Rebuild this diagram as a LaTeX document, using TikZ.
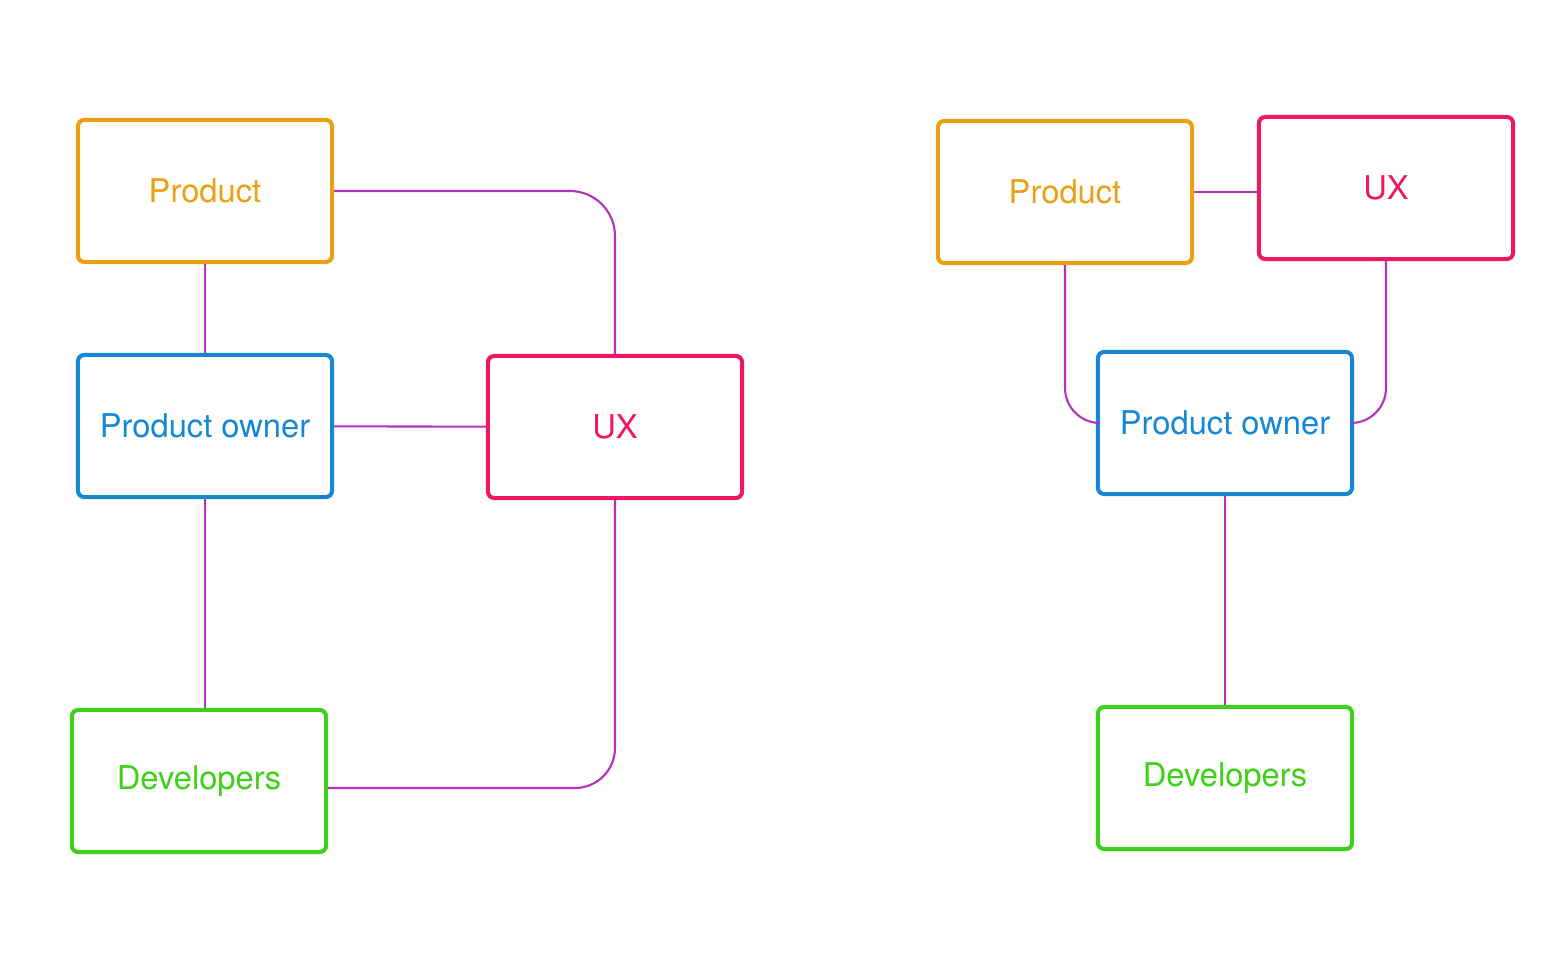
\documentclass[tikz,border=0pt]{standalone}
\usepackage{fontspec}
\setmainfont{TeX Gyre Heros}
\definecolor{prodcol}{HTML}{E9A013}
\definecolor{pocol}{HTML}{1587D3}
\definecolor{uxcol}{HTML}{EE1763}
\definecolor{devcol}{HTML}{3DD118}
\definecolor{linkcol}{HTML}{B62FBE}

\tikzset{
	team/.style={draw, line width=1.15pt, rounded corners=1.8pt, minimum width=2.54cm, minimum height=1.42cm, font=\fontsize{9.3}{11}\selectfont},
	link/.style={draw=linkcol, line width=0.6pt},
}

\begin{document}
\begin{tikzpicture}[x=0.01cm, y=-0.01cm]
	\useasboundingbox (0,0) rectangle (1564,964);

	% left: every team talks to everybody
	\node[team, draw=prodcol, text=prodcol] (prod) at (205,191) {Product};
	\node[team, draw=pocol, text=pocol] (po) at (205,426) {Product owner};
	\node[team, draw=uxcol, text=uxcol] (ux) at (615,427) {UX};
	\node[team, draw=devcol, text=devcol] (dev) at (199,781) {Developers};

	\path [-, link] (prod) edge (po);
	\path [-, link] (po) edge (ux);
	\path [-, link] (po.south) edge (po.south |- dev.north);
	\draw [link, rounded corners=0.45cm] (prod) -| (ux);
	\draw [link, rounded corners=0.4cm] ([yshift=-0.07cm]dev.east) -| (ux);

	% right: product owner in the middle
	\node[team, draw=prodcol, text=prodcol] (prod2) at (1065,192) {Product};
	\node[team, draw=uxcol, text=uxcol] (ux2) at (1386,188) {UX};
	\node[team, draw=pocol, text=pocol] (po2) at (1225,423) {Product owner};
	\node[team, draw=devcol, text=devcol] (dev2) at (1225,778) {Developers};

	\path [-, link] (prod2.east) edge (prod2.east -| ux2.west);
	\path [-, link] (po2) edge (dev2);
	\draw [link, rounded corners=0.35cm] (prod2) |- (po2);
	\draw [link, rounded corners=0.35cm] (ux2) |- (po2);
\end{tikzpicture}
\end{document}
